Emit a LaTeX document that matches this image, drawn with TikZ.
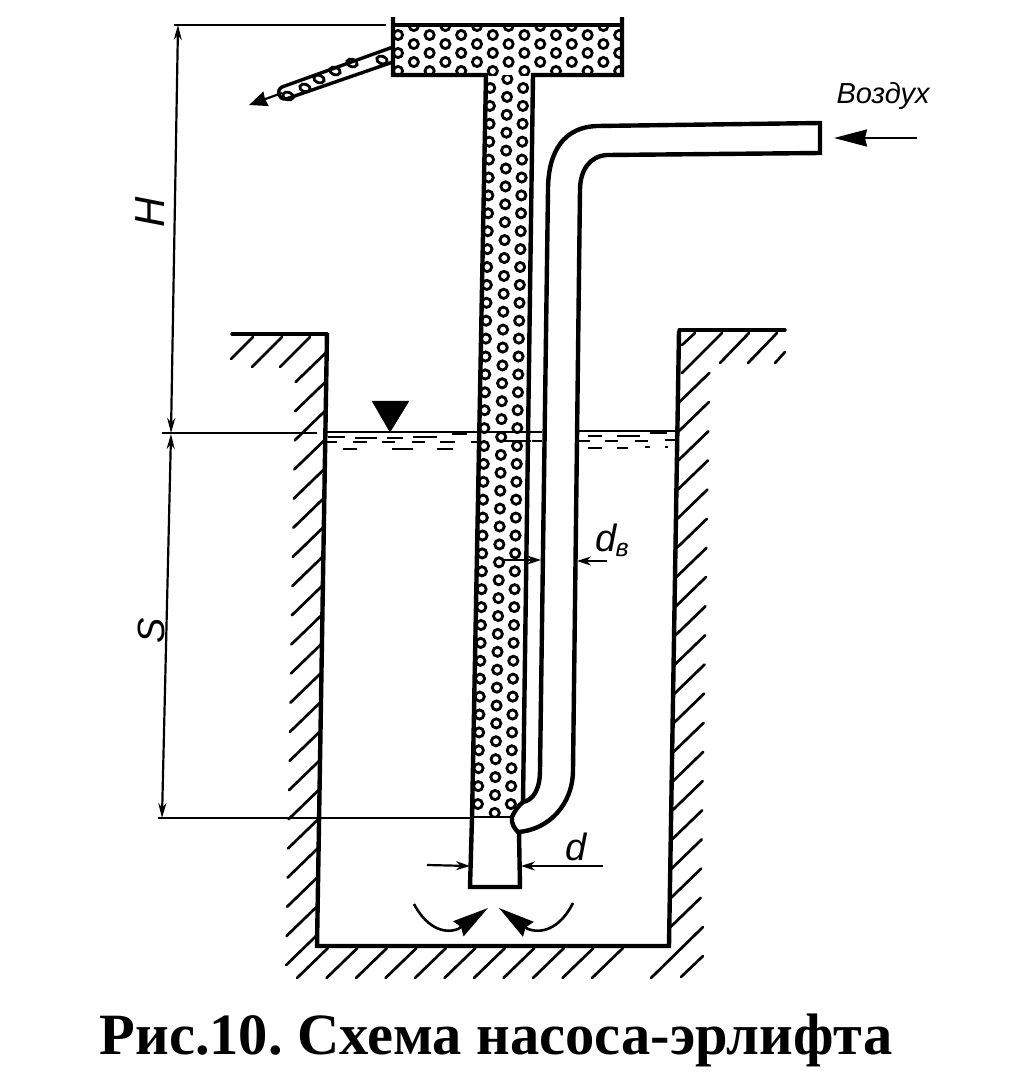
\documentclass[tikz,border=0pt]{standalone}
\usepackage{fontspec}
\setmainfont{Liberation Serif}
\setsansfont{Liberation Sans}
\usetikzlibrary{arrows.meta}
\tikzset{
  wall/.style={line width=4.4pt,line join=miter},
  thin line/.style={line width=2.2pt},
  ground/.style={line width=3.4pt,line cap=round},
  hatch/.style={line width=2.7pt,line cap=round},
  ripple/.style={line width=2.2pt},
  bubble/.style={line width=2.8pt},
  smalltip/.style={-{Stealth[length=14pt,width=9pt]},line width=2.2pt},
  bigtip/.style={-{Stealth[length=36pt,width=18pt,inset=3pt]},line width=2.6pt},
  airtip/.style={-{Stealth[length=33pt,width=17pt,inset=2pt]},line width=2.2pt},
  dimtip/.style={{Stealth[length=15pt,width=8pt]}-{Stealth[length=15pt,width=8pt]},line width=2.2pt},
  dimlabel/.style={inner sep=0pt},
  bigitalic/.style={font=\sffamily\itshape\fontsize{#1}{#1}\selectfont},
}
\begin{document}
\begin{tikzpicture}[x=1pt,y=-1pt]
    \useasboundingbox (0,0) rectangle (1034,1077);

    % bubbles in the tank
    \begin{scope}
      \clip (393,25) rectangle (622,75);
      \foreach \col in {0,...,14} {
        \pgfmathsetmacro{\xc}{398+15.8*\col}
        \pgfmathsetmacro{\yo}{isodd(\col) ? 26 : 35}
        \foreach \row in {0,...,2}
          \draw[bubble] (\xc,\yo+18*\row) circle (4.6);
      }
    \end{scope}
    % bubbles in the riser
    \begin{scope}
      \clip (533,75) -- (523,802) -- (512,817) -- (472,817) -- (486,75) -- cycle;
      \foreach \row in {0,...,41} {
        \pgfmathsetmacro{\ya}{88+17.9*\row}
        \pgfmathsetmacro{\yb}{79+17.9*\row}
        \draw[bubble] (490-0.0172*\ya+1.7,\ya) circle (4.6);
        \draw[bubble] (523-0.0172*\ya+1.7,\ya) circle (4.6);
        \draw[bubble] (507-0.0172*\yb+1.7,\yb) circle (4.6);
      }
    \end{scope}
    \foreach \xc/\yc in {382/60,352/63,335/71,319/79,305/88,288/96}
      \draw[bubble,rotate around={-20:(\xc,\yc)}] (\xc,\yc) ellipse (5.4 and 3.8);

    % tank, outlet and riser
    \draw[wall] (393,17) -- (393,75) -- (486,75) -- (472,818) -- (470,887) -- (520,887) -- (519,832);
    \draw[wall] (622,17) -- (622,75) -- (533,75) -- (523,802);
    \draw[wall] (393,25) -- (622,25);
    \draw[wall,line width=3.4pt] (393,47) -- (282,87) .. controls (276,90) and (278,100) .. (286,99) -- (393,62);

    % air pipe
    \draw[wall] (523,802) .. controls (533,800) and (540,790) .. (540,770) -- (548,190)
      .. controls (548,150) and (565,127) .. (597,126) -- (820,123) -- (820,153) -- (607,155)
      .. controls (590,156) and (580,170) .. (580,190) -- (573,770)
      .. controls (573,805) and (548,830) .. (518,832) .. controls (514,828) and (511,823) .. (512,817)
      .. controls (514,812) and (518,806) .. (523,802);

    % well and ground
    \draw[wall] (327,333) -- (317,946) -- (669,946) -- (679,331);
    \draw[ground] (232,334) -- (327,334);
    \draw[ground] (679,330) -- (785,330);
    \foreach \k in {0,...,20} {
      \pgfmathsetmacro{\yh}{352+29.15*\k}
      \draw[hatch] (327-0.0163*\yh+5.4,\yh) -- ++(-31,30);
    }
    \foreach \k in {0,...,18} {
      \pgfmathsetmacro{\yh}{373+29.15*\k}
      \draw[hatch] (679-0.0163*\yh+5.4,\yh+30) -- ++(31,-30);
    }
    \foreach \k in {0,...,10}
      \draw[hatch] (328+29.5*\k,948) -- ++(-31,30);
    \draw[hatch] (703,927) -- (651,978);
    \draw[hatch] (703,956) -- (681,977);
    \foreach \xa/\xb in {253/231,282/252,310/280}
      \draw[hatch] (\xa,337) -- (\xb,\xa-\xb+337);
    \draw[hatch] (695,333) -- (682,345);
    \draw[hatch] (722,333) -- (682,373);
    \draw[hatch] (749,333) -- (720,363);
    \draw[hatch] (777,333) -- (748,363);
    \draw[hatch] (785,352) -- (775,363);

    % water level
    \coordinate (levelL) at (162,433);
    \coordinate (levelM) at (317,433);
    \coordinate (levelN) at (327,432);
    \coordinate (levelA) at (542,432);
    \coordinate (levelB) at (579,431);
    \coordinate (levelC) at (677,431);
    \draw[thin line] (levelL) -- (levelM);
    \draw[thin line] (levelN) -- (levelA);
    \draw[thin line] (levelB) -- (levelC);
    \draw[fill=black] (372,401) -- (409,401) -- (390,432) -- cycle;
    \foreach \xa/\xb/\yr in {
      328/345/437,355/377/438,387/403/438,413/437/437,452/467/434,
      325/337/442,353/367/442,382/395/442,412/425/442,440/455/442,471/477/442,503/531/441,532/542/441,
      343/357/449,392/413/449,437/453/449,
      588/602/436,617/640/436,650/667/433,
      579/590/441,605/618/441,635/648/441,665/675/440,
      588/602/448,617/628/448,645/650/447,665/668/447}
      \draw[ripple] (\xa,\yr) -- (\xb,\yr);

    % dimensions
    \coordinate (topH) at (178,25);
    \coordinate (botH) at (171,433);
    \coordinate (topS) at (171,434);
    \coordinate (botS) at (162,818);
    \draw[thin line] (174,25) -- (386,25);
    \draw[thin line] (158,818) -- (472,818);
    \draw[thin line] (472,817) -- (512,817);
    \draw[dimtip] (topH) -- (botH);
    \draw[dimtip] (topS) -- (botS);
    \node[dimlabel,rotate=90,bigitalic=42] (labelH) at (150,212) {H};
    \node[dimlabel,rotate=90,bigitalic=38] (labelS) at (151,631) {S};

    \coordinate (dA) at (427,865);
    \coordinate (dB) at (470,866);
    \coordinate (dC) at (603,866);
    \coordinate (dD) at (521,866);
    \draw[smalltip] (dA) -- (dB);
    \draw[smalltip] (dC) -- (dD);
    \node[dimlabel,bigitalic=38] (labeld) at (576,847) {d};

    \coordinate (dbA) at (503,560);
    \coordinate (dbB) at (541,560);
    \coordinate (dbC) at (607,561);
    \coordinate (dbD) at (577,561);
    \draw[smalltip] (dbA) -- (dbB);
    \draw[smalltip] (dbC) -- (dbD);
    \node[dimlabel,bigitalic=38] (labeldb) at (612,540) {d\kern-1pt\raisebox{-5pt}{\fontsize{25}{25}\selectfont в}};

    % flows
    \coordinate (outA) at (282,93);
    \coordinate (outB) at (249,105);
    \draw[-{Stealth[length=18pt,width=15pt,inset=1pt]},line width=2.2pt] (outA) -- (outB);

    \coordinate (airA) at (917,138);
    \coordinate (airB) at (834,138);
    \draw[airtip] (airA) -- (airB);
    \node[dimlabel,bigitalic=29] (labelair) at (883,96) {Воздух};

    \coordinate (inL) at (414,904);
    \coordinate (tipL) at (488,908);
    \coordinate (inR) at (573,903);
    \coordinate (tipR) at (499,908);
    \draw[bigtip] (inL) .. controls (425,925) and (442,935) .. (458,929) -- (tipL);
    \draw[bigtip] (inR) .. controls (562,925) and (545,935) .. (528,929) -- (tipR);

    \node[inner sep=0pt,font=\frenchspacing\bfseries\fontsize{58.5}{60}\selectfont] (caption) at (496,1040) {Рис.10. Схема насоса-эрлифта};
\end{tikzpicture}
\end{document}
